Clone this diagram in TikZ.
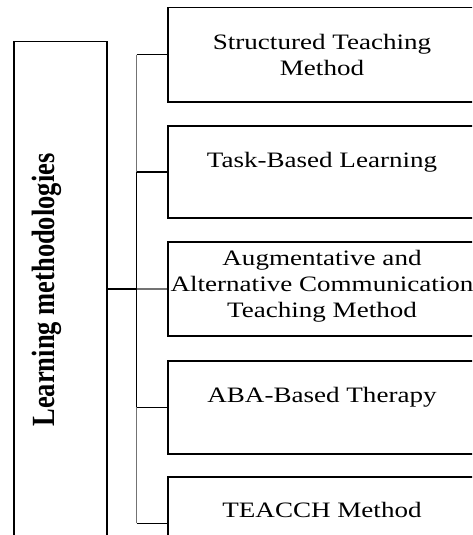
\documentclass[tikz,border=0pt]{standalone}
\usepackage{fontspec}
\setmainfont{Liberation Serif}
\usepackage{graphicx}
\newcommand\sxt[1]{\scalebox{1.23}[1]{#1}}
\begin{document}
\begin{tikzpicture}[x=1pt,y=-1pt,
  box/.style={draw, line width=1.5pt, inner sep=0pt, minimum width=311pt, anchor=north west},
  lbl/.style={font=\fontsize{22}{26}\selectfont, anchor=base, inner sep=0pt, align=center},
  conn/.style={line width=1.5pt, draw=black},
  soft/.style={line width=1.5pt, draw=black!55}]
\useasboundingbox (0,0) rectangle (472,535);
\clip (0,0) rectangle (472,535);
% left box
\node[box, minimum width=93pt, minimum height=510pt] (root) at (13,41) {};
\node[inner sep=0pt, font=\bfseries\fontsize{26.5}{30}\selectfont] (rt) at (47,290)
  {\scalebox{1.22}[1]{\rotatebox{90}{Learning methodologies}}};
% right boxes
\node[box, minimum height=94pt] (b1) at (167,7) {};
\node[box, minimum height=92pt] (b2) at (167,125) {};
\node[box, minimum height=94pt] (b3) at (167,241) {};
\node[box, minimum height=93pt] (b4) at (167,360) {};
\node[box, minimum height=93pt] (b5) at (167,476) {};
% labels (base = baseline of the last line)
\node[lbl] (t1) at (322,75) {\sxt{Structured Teaching}\\\sxt{Method}};
\node[lbl] (t2) at (322,167) {\sxt{Task-Based Learning}};
\node[lbl] (t3) at (322,317) {\sxt{Augmentative and}\\\sxt{Alternative Communication}\\\sxt{Teaching Method}};
\node[lbl] (t4) at (322,402) {\sxt{ABA-Based Therapy}};
\node[lbl] (t5) at (322,517) {\sxt{TEACCH Method}};
% connectors
\coordinate (bx) at (136.5,0);
\draw[soft] (bx |- b1.west) -- (bx |- b2.west);
\draw[conn] (bx |- b2.west) -- (bx |- b4.west);
\draw[soft] (bx |- b4.west) -- (bx |- b5.west);
\draw[conn] (root.east |- b3.west) -- (bx |- b3.west);
\draw[soft] (bx |- b3.west) -- (b3.west);
\draw[conn] (bx |- b1.west) -- (b1.west);
\draw[conn] (bx |- b2.west) -- (b2.west);
\draw[conn] (bx |- b4.west) -- (b4.west);
\draw[conn] (bx |- b5.west) -- (b5.west);
\end{tikzpicture}
\end{document}
